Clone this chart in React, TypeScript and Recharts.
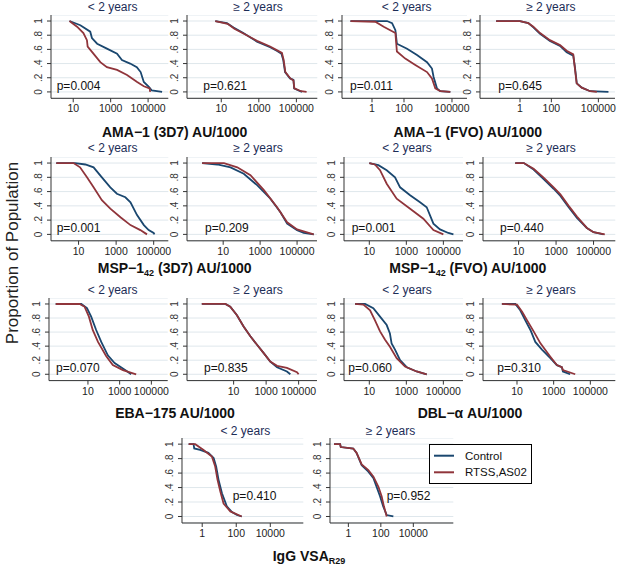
import React from 'react';
import { LineChart, Line, XAxis, YAxis, CartesianGrid } from 'recharts';

type Pt = [number, number];

// reverse cumulative distributions: [antibody level (AU/1000), proportion >= level]
const ama3d7YoungControl: Pt[] = [[6.3, 1], [24, 0.94], [81, 0.85], [100, 0.76], [190, 0.68], [630, 0.61], [2200, 0.54], [4000, 0.45], [11000, 0.4], [25000, 0.35], [40000, 0.28], [59000, 0.14], [110000, 0.07], [160000, 0.02], [560000, 0]];
const ama3d7YoungRtss: Pt[] = [[6.3, 1], [16, 0.92], [35, 0.83], [54, 0.73], [59, 0.64], [120, 0.54], [280, 0.42], [630, 0.35], [2200, 0.31], [7500, 0.24], [26000, 0.14], [59000, 0.08], [120000, 0.05], [130000, 0]];
const ama3d7OldControl: Pt[] = [[4.8, 1], [20, 0.97], [45, 0.91], [150, 0.83], [800, 0.71], [4000, 0.63], [9000, 0.58], [16000, 0.54], [20000, 0.45], [25000, 0.28], [46000, 0.19], [70000, 0.17], [76000, 0.05], [160000, 0.01], [200000, 0]];
const ama3d7OldRtss: Pt[] = [[4.8, 1], [22, 0.96], [50, 0.89], [160, 0.82], [800, 0.72], [4000, 0.64], [9000, 0.59], [17000, 0.55], [21000, 0.45], [26000, 0.28], [48000, 0.19], [70000, 0.16], [78000, 0.05], [180000, 0.01], [350000, 0]];

const amaFvoYoungControl: Pt[] = [[0.045, 1], [8.7, 1], [18, 0.97], [29, 0.87], [36, 0.68], [155, 0.61], [650, 0.52], [2750, 0.42], [5600, 0.33], [7100, 0.21], [11500, 0.05], [18600, 0.01], [79000, 0]];
const amaFvoYoungRtss: Pt[] = [[0.045, 1], [1.6, 0.99], [5.4, 0.92], [29, 0.83], [36, 0.57], [120, 0.47], [510, 0.38], [2750, 0.28], [5600, 0.19], [9100, 0.05], [18600, 0.01], [79000, 0]];
const amaFvoOldControl: Pt[] = [[0.03, 1], [1, 1], [3.4, 0.97], [7.1, 0.91], [19, 0.82], [81, 0.72], [355, 0.65], [950, 0.56], [2500, 0.51], [3200, 0.35], [4200, 0.12], [8700, 0.06], [30000, 0.01], [440000, 0]];
const amaFvoOldRtss: Pt[] = [[0.03, 1], [1, 1], [3.4, 0.97], [7.1, 0.92], [19, 0.83], [81, 0.73], [355, 0.66], [950, 0.58], [2500, 0.53], [3100, 0.35], [4100, 0.12], [8700, 0.06], [30000, 0.01], [80000, 0]];

const msp3d7YoungControl: Pt[] = [[0.65, 1], [6.6, 1], [23, 0.98], [63, 0.94], [174, 0.8], [490, 0.66], [1100, 0.57], [3100, 0.52], [5800, 0.45], [13000, 0.27], [30000, 0.13], [54000, 0.06], [100000, 0.02], [110000, 0]];
const msp3d7YoungRtss: Pt[] = [[0.65, 1], [5.4, 1], [12, 0.94], [28, 0.8], [63, 0.66], [174, 0.48], [490, 0.36], [1700, 0.24], [5800, 0.13], [19500, 0.06], [44000, 0]];
const msp3d7OldControl: Pt[] = [[0.72, 1], [4.8, 0.98], [25, 0.94], [130, 0.85], [690, 0.69], [3600, 0.5], [12600, 0.31], [29000, 0.15], [100000, 0.06], [230000, 0.02], [800000, 0]];
const msp3d7OldRtss: Pt[] = [[0.72, 1], [11, 1], [58, 0.94], [300, 0.83], [1600, 0.62], [8300, 0.38], [29000, 0.17], [100000, 0.07], [800000, 0]];

const mspFvoYoungControl: Pt[] = [[10, 1], [31, 0.97], [87, 0.9], [245, 0.8], [460, 0.66], [1600, 0.55], [5500, 0.45], [12600, 0.38], [29000, 0.15], [66000, 0.07], [186000, 0.02], [350000, 0]];
const mspFvoYoungRtss: Pt[] = [[10, 1], [20, 0.98], [38, 0.9], [87, 0.71], [300, 0.5], [1600, 0.36], [8300, 0.22], [29000, 0.06], [100000, 0]];
const mspFvoOldControl: Pt[] = [[6.6, 1], [19, 1], [63, 0.91], [210, 0.78], [740, 0.64], [1700, 0.54], [4700, 0.38], [13000, 0.23], [44000, 0.09], [100000, 0.03], [340000, 0]];
const mspFvoOldRtss: Pt[] = [[6.6, 1], [19, 1], [63, 0.92], [210, 0.8], [740, 0.66], [1700, 0.56], [4700, 0.4], [13000, 0.25], [44000, 0.09], [100000, 0.03], [400000, 0]];

const ebaYoungControl: Pt[] = [[0.093, 1], [3.8, 1], [8.7, 0.94], [16, 0.82], [33, 0.63], [69, 0.46], [180, 0.27], [480, 0.16], [2600, 0.05], [5300, 0]];
const ebaYoungRtss: Pt[] = [[0.093, 1], [3, 1], [6.2, 0.96], [11.5, 0.82], [20, 0.63], [43, 0.46], [140, 0.26], [370, 0.13], [1600, 0.06], [11000, 0]];
const ebaOldControl: Pt[] = [[0.11, 1], [3.1, 1], [6.2, 0.96], [16, 0.84], [41, 0.68], [107, 0.54], [275, 0.42], [710, 0.3], [1800, 0.18], [4700, 0.1], [19000, 0.04], [31000, 0]];
const ebaOldRtss: Pt[] = [[0.11, 1], [3.1, 1], [6.2, 0.96], [16, 0.84], [41, 0.68], [107, 0.54], [275, 0.42], [710, 0.3], [1800, 0.18], [4700, 0.12], [19000, 0.09], [79000, 0.03], [100000, 0]];

const dblYoungControl: Pt[] = [[1.7, 1], [5.9, 1], [16.5, 0.94], [38, 0.82], [87, 0.7], [130, 0.58], [160, 0.44], [245, 0.35], [460, 0.2], [1050, 0.1], [3600, 0.04], [12600, 0]];
const dblYoungRtss: Pt[] = [[1.7, 1], [4.8, 0.99], [11, 0.91], [20, 0.77], [38, 0.61], [71, 0.49], [130, 0.39], [300, 0.23], [850, 0.11], [3600, 0.04], [12600, 0]];
const dblOldControl: Pt[] = [[1.5, 1], [8.1, 1], [15, 0.91], [28, 0.77], [54, 0.63], [100, 0.46], [230, 0.35], [660, 0.23], [1500, 0.13], [2800, 0.1], [3200, 0.04], [7900, 0]];
const dblOldRtss: Pt[] = [[1.5, 1], [10, 0.99], [19, 0.89], [35, 0.77], [81, 0.61], [190, 0.44], [660, 0.25], [1500, 0.13], [2800, 0.1], [3200, 0.06], [15000, 0]];

const vsaYoungControl: Pt[] = [[0.16, 1], [0.31, 1], [0.34, 0.94], [0.76, 0.92], [2.3, 0.88], [4.7, 0.81], [6.6, 0.69], [9.1, 0.51], [14.5, 0.32], [28, 0.14], [56, 0.06], [110, 0.02], [210, 0]];
const vsaYoungRtss: Pt[] = [[0.16, 1], [0.39, 1], [1.2, 0.92], [3.7, 0.83], [5.8, 0.69], [7.9, 0.51], [11.5, 0.35], [18, 0.18], [45, 0.07], [210, 0]];
const vsaOldControl: Pt[] = [[0.13, 1], [0.31, 1], [0.34, 0.96], [2, 0.94], [3.2, 0.88], [6.6, 0.71], [17, 0.62], [35, 0.53], [55, 0.41], [89, 0.28], [140, 0.14], [230, 0.02], [590, 0]];
const vsaOldRtss: Pt[] = [[0.13, 1], [0.31, 1], [0.34, 0.96], [2, 0.94], [3.2, 0.88], [6.6, 0.72], [17, 0.64], [35, 0.55], [71, 0.41], [112, 0.28], [155, 0.14], [230, 0]];

const pValues = ['0.004', '0.621', '0.011', '0.645', '0.001', '0.209', '0.001', '0.440', '0.070', '0.835', '0.060', '0.310', '0.410', '0.952'];
const ageGroups = ['< 2 years', '≥ 2 years'];
const ticksA = [10, 1000, 100000];
const ticksB = [1, 100, 100000];
const ticksC = [1, 100, 10000];
const yTicks = [0, 0.2, 0.4, 0.6, 0.8, 1];
const seriesNames = ['Control', 'RTSS,AS02'];

const BLUE = '#1a476f';
const RED = '#90353b';
const FONT = '"Liberation Sans", Arial, Helvetica, sans-serif';
const Y_W = 30;
const X_H = 22;
const R_PAD = 24;

const ROWS = [
  { pt: 15, pb: 98.3, titleY: 11, pY: 90 },
  { pt: 156.6, pb: 240.4, titleY: 152, pY: 231.5 },
  { pt: 298, pb: 380.6, titleY: 294, pY: 371.5 },
  { pt: 438.2, pb: 523.2, titleY: 435, pY: 500 },
];

interface PanelSpec {
  control: Pt[];
  rtss: Pt[];
  row: number;
  age: number;
  ax: number;
  rx: number;
  lo: number;
  hi: number;
  ticks: number[];
  titleX: number;
  pX: number;
}

const panels: PanelSpec[] = [
  { control: ama3d7YoungControl, rtss: ama3d7YoungRtss, row: 0, age: 0, ax: 50.7, rx: 168, lo: 0.65, hi: 1.2e6, ticks: ticksA, titleX: 112.7, pX: 6 },
  { control: ama3d7OldControl, rtss: ama3d7OldRtss, row: 0, age: 1, ax: 186.7, rx: 317, lo: 0.15, hi: 1.3e6, ticks: ticksA, titleX: 258, pX: 16.6 },
  { control: amaFvoYoungControl, rtss: amaFvoYoungRtss, row: 0, age: 0, ax: 341.7, rx: 466.7, lo: 0.0133, hi: 8.7e5, ticks: ticksB, titleX: 406.7, pX: 8.3 },
  { control: amaFvoOldControl, rtss: amaFvoOldRtss, row: 0, age: 1, ax: 480, rx: 615, lo: 0.0028, hi: 1.15e6, ticks: ticksB, titleX: 550.8, pX: 18.3 },
  { control: msp3d7YoungControl, rtss: msp3d7YoungRtss, row: 1, age: 0, ax: 50.7, rx: 168, lo: 0.34, hi: 6e5, ticks: ticksA, titleX: 112.7, pX: 6 },
  { control: msp3d7OldControl, rtss: msp3d7OldRtss, row: 1, age: 1, ax: 186.7, rx: 316.7, lo: 0.11, hi: 1.2e6, ticks: ticksA, titleX: 258, pX: 18.3 },
  { control: mspFvoYoungControl, rtss: mspFvoYoungRtss, row: 1, age: 0, ax: 344, rx: 463, lo: 0.43, hi: 1.15e6, ticks: ticksA, titleX: 407, pX: 7.7 },
  { control: mspFvoOldControl, rtss: mspFvoOldRtss, row: 1, age: 1, ax: 482.7, rx: 615, lo: 0.126, hi: 1.45e6, ticks: ticksA, titleX: 551, pX: 17.3 },
  { control: ebaYoungControl, rtss: ebaYoungRtss, row: 2, age: 0, ax: 49.3, rx: 168, lo: 0.035, hi: 1.07e6, ticks: ticksA, titleX: 112.7, pX: 6.7 },
  { control: ebaOldControl, rtss: ebaOldRtss, row: 2, age: 1, ax: 186.7, rx: 316.7, lo: 0.0135, hi: 1.35e6, ticks: ticksA, titleX: 258, pX: 17.3 },
  { control: dblYoungControl, rtss: dblYoungRtss, row: 2, age: 0, ax: 344, rx: 463, lo: 0.43, hi: 1.15e6, ticks: ticksA, titleX: 407, pX: 4.3 },
  { control: dblOldControl, rtss: dblOldRtss, row: 2, age: 1, ax: 482.7, rx: 615, lo: 0.14, hi: 2.3e6, ticks: ticksA, titleX: 551, pX: 14.6 },
  { control: vsaYoungControl, rtss: vsaYoungRtss, row: 3, age: 0, ax: 181.7, rx: 303, lo: 0.065, hi: 8.7e5, ticks: ticksC, titleX: 245.3, pX: 51 },
  { control: vsaOldControl, rtss: vsaOldRtss, row: 3, age: 1, ax: 330, rx: 453.3, lo: 0.074, hi: 2.9e6, ticks: ticksC, titleX: 390.5, pX: 56.7 },
];

const axisTitles = [
  { pre: 'AMA−1 (3D7) AU/1000', sub: '', post: '', x: 174.7, y: 137 },
  { pre: 'AMA−1 (FVO) AU/1000', sub: '', post: '', x: 467.8, y: 137 },
  { pre: 'MSP−1', sub: '42', post: ' (3D7) AU/1000', x: 174.7, y: 273 },
  { pre: 'MSP−1', sub: '42', post: ' (FVO) AU/1000', x: 467.8, y: 273 },
  { pre: 'EBA−175 AU/1000', sub: '', post: '', x: 175, y: 418 },
  { pre: 'DBL−α AU/1000', sub: '', post: '', x: 470, y: 418 },
  { pre: 'IgG VSA', sub: 'R29', post: '', x: 309, y: 561 },
];

// plotted on log10 of the level, so the axis is logarithmic
const toRows = (pts: Pt[]) => pts.map(([v, p]) => ({ x: Math.log10(v), p }));
const fmtX = (v: number) => String(Math.round(Math.pow(10, v)));
const fmtY = (v: number) => (v === 0 || v === 1 ? String(v) : v.toFixed(1).replace(/^0/, ''));

const XTick = (props: any) => {
  const { x, y, payload } = props;
  return (
    <text x={x} y={y + 9} textAnchor="middle" fontSize={10.5} fill="#222" fontFamily={FONT}>
      {fmtX(payload.value)}
    </text>
  );
};

const YTick = (props: any) => {
  const { x, y, payload } = props;
  const tx = x - 3;
  return (
    <text x={tx} y={y} transform={`rotate(-90 ${tx} ${y})`} textAnchor="middle" fontSize={10} fill="#333" fontFamily={FONT}>
      {fmtY(payload.value)}
    </text>
  );
};

function Panel({ s }: { s: PanelSpec }) {
  const row = ROWS[s.row];
  const plotW = s.rx - s.ax;
  const plotH = row.pb - row.pt;
  return (
    <div style={{ position: 'absolute', left: s.ax - Y_W, top: row.pt }}>
      <LineChart width={Y_W + plotW + R_PAD} height={plotH + X_H} margin={{ top: 0, right: R_PAD, bottom: 0, left: 0 }}>
        <CartesianGrid vertical={false} stroke="#dfe7ec" />
        <XAxis
          type="number"
          dataKey="x"
          domain={[Math.log10(s.lo), Math.log10(s.hi)]}
          allowDataOverflow
          ticks={s.ticks.map((t) => Math.log10(t))}
          interval={0}
          minTickGap={0}
          height={X_H}
          tickSize={4}
          tickMargin={1}
          stroke="#333"
          tick={<XTick />}
        />
        <YAxis
          type="number"
          domain={[-0.09, 1.085]}
          allowDataOverflow
          ticks={yTicks}
          interval={0}
          width={Y_W}
          tickSize={4}
          stroke="#333"
          tick={<YTick />}
        />
        <Line data={toRows(s.control)} dataKey="p" type="linear" stroke={BLUE} strokeWidth={1.8} dot={false} isAnimationActive={false} />
        <Line data={toRows(s.rtss)} dataKey="p" type="linear" stroke={RED} strokeWidth={1.8} dot={false} isAnimationActive={false} />
      </LineChart>
    </div>
  );
}

export default function App() {
  return (
    <div style={{ position: 'absolute', left: 0, top: 0, width: 619, height: 567, background: '#fff', fontFamily: FONT, overflow: 'hidden' }}>
      {panels.map((s, i) => (
        <Panel key={i} s={s} />
      ))}
      <svg width={619} height={567} style={{ position: 'absolute', left: 0, top: 0, pointerEvents: 'none' }} fontFamily={FONT}>
        {panels.map((s, i) => (
          <g key={i}>
            <text x={s.titleX} y={ROWS[s.row].titleY} textAnchor="middle" fontSize={12} fill="#1c2d57">
              {ageGroups[s.age]}
            </text>
            <text x={s.ax + s.pX} y={ROWS[s.row].pY} fontSize={12} fill="#111">
              p={pValues[i]}
            </text>
          </g>
        ))}
        {axisTitles.map((t, i) => (
          <text key={i} x={t.x} y={t.y} textAnchor="middle" fontSize={14} fontWeight="bold" fill="#111">
            {t.pre}
            {t.sub && (
              <tspan fontSize={9} dy={3}>
                {t.sub}
              </tspan>
            )}
            {t.post && <tspan dy={t.sub ? -3 : 0}>{t.post}</tspan>}
          </text>
        ))}
        <text x={18} y={253} transform="rotate(-90 18 253)" textAnchor="middle" fontSize={17} fill="#222">
          Proportion of Population
        </text>
        <rect x={429.5} y={444.5} width={102} height={39} fill="#fff" stroke="#000" strokeWidth={1} />
        <line x1={434} x2={454} y1={455.7} y2={455.7} stroke={BLUE} strokeWidth={2} />
        <line x1={434} x2={454} y1={472.3} y2={472.3} stroke={RED} strokeWidth={2} />
        <text x={465} y={459.7} fontSize={11.5} fill="#111">{seriesNames[0]}</text>
        <text x={465} y={476.3} fontSize={11.5} fill="#111">{seriesNames[1]}</text>
      </svg>
    </div>
  );
}
